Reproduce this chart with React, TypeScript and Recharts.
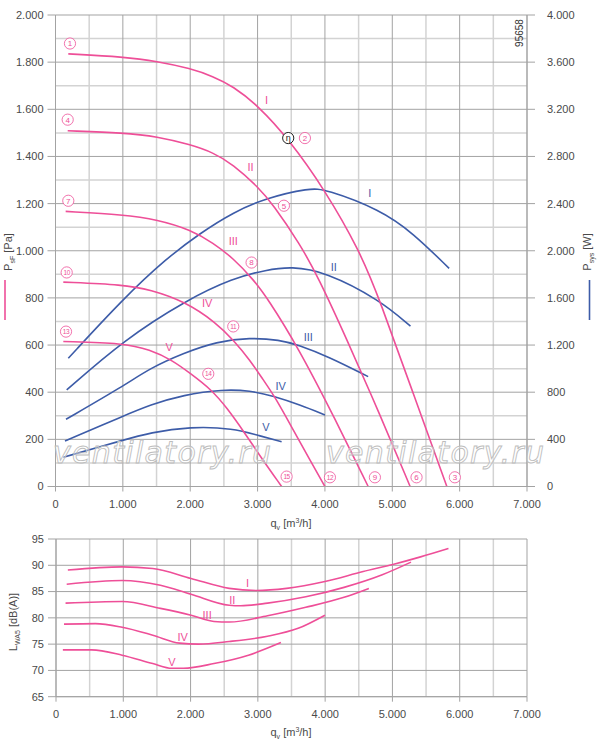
import React from "react";
import {
  CartesianGrid,
  ComposedChart,
  Line,
  ReferenceDot,
  XAxis,
  YAxis,
} from "recharts";

const PINK = "#ee4f98";
const BLUE = "#3d5ca8";
const GRID = "#a3a3a3";
const GRID_MINOR = "#d3d3d3";
const INK = "#4a4a4a";
const FONT = "'Liberation Sans', Arial, sans-serif";

// axes
const xTicks = [0, 1000, 2000, 3000, 4000, 5000, 6000, 7000];
const xMinor = [500, 1500, 2500, 3500, 4500, 5500, 6500];
const psfTicks = [0, 200, 400, 600, 800, 1000, 1200, 1400, 1600, 1800, 2000];
const psfMinor = [100, 300, 500, 700, 900, 1100, 1300, 1500, 1700, 1900];
const psysTicks = [0, 400, 800, 1200, 1600, 2000, 2400, 2800, 3200, 3600, 4000];
const lwaTicks = [65, 70, 75, 80, 85, 90, 95];

// static pressure psF [Pa] vs qv [m3/h]
const qPsfI = [190, 1016, 1506, 2006, 2337, 2634, 3005, 3455, 4000, 4519, 4816, 5310, 5810];
const psfI = [1835, 1822, 1804, 1773, 1740, 1698, 1616, 1476, 1258, 998, 790, 395, 0];
const qPsfII = [181, 1016, 1506, 2006, 2337, 2634, 3005, 3228, 3628, 3900, 4321, 4816, 5265];
const psfII = [1509, 1500, 1485, 1450, 1417, 1367, 1271, 1197, 1029, 888, 627, 305, 0];
const qPsfIII = [151, 1016, 1511, 2006, 2342, 2639, 2935, 3158, 3603, 4124, 4642];
const psfIII = [1167, 1153, 1132, 1089, 1033, 968, 879, 794, 589, 302, 0];
const qPsfIV = [116, 1016, 1402, 1922, 2392, 2639, 2886, 3084, 3257, 3529, 3777, 4000];
const psfIV = [867, 856, 835, 785, 693, 622, 537, 452, 381, 240, 113, 0];
const qPsfV = [116, 1016, 1402, 1724, 1996, 2318, 2541, 2812, 3035, 3357];
const psfV = [615, 608, 580, 537, 481, 410, 335, 226, 130, 0];

// power Psys [W]
const qPsysI = [190, 1016, 1650, 2144, 2639, 3124, 3777, 4000, 4816, 5310, 5844];
const psysI = [1088, 1600, 1936, 2148, 2326, 2447, 2532, 2523, 2350, 2150, 1850];
const qPsysII = [166, 1016, 1947, 2639, 3134, 3500, 4000, 4816, 5270];
const psysII = [819, 1244, 1583, 1768, 1838, 1866, 1824, 1583, 1360];
const qPsysIII = [156, 1016, 1402, 1897, 2392, 2886, 3331, 3603, 4050, 4642];
const psysIII = [570, 855, 1003, 1131, 1229, 1263, 1244, 1201, 1102, 932];
const qPsysIV = [141, 1016, 1402, 1897, 2490, 2886, 3232, 3628, 4000];
const psysIV = [386, 600, 692, 777, 825, 813, 768, 692, 607];
const qPsysV = [116, 1016, 1402, 1996, 2639, 3035, 3357];
const psysV = [248, 395, 457, 508, 494, 429, 380];

// sound power LWA5 [dB(A)]
const qLwaI = [176, 983, 1438, 2007, 2575, 2973, 3428, 3997, 4565, 5020, 5418, 5833];
const lwaI = [89.1, 89.7, 89.4, 87.5, 85.6, 85.2, 85.6, 86.9, 88.8, 90.2, 91.6, 93.2];
const qLwaII = [159, 983, 1552, 2007, 2575, 2746, 3144, 3712, 4281, 4849, 5276];
const lwaII = [86.4, 87.1, 86.2, 84.5, 82.4, 82.3, 82.8, 84.0, 85.8, 88.2, 90.6];
const qLwaIII = [142, 983, 1552, 2007, 2348, 2575, 3144, 3712, 4281, 4650];
const lwaIII = [82.8, 83.1, 81.8, 80.5, 79.3, 79.2, 80.4, 82.0, 83.9, 85.6];
const qLwaIV = [119, 586, 983, 1438, 1836, 2120, 2575, 3144, 3599, 3997];
const lwaIV = [78.8, 78.9, 78.2, 76.7, 75.2, 75.0, 75.5, 76.5, 78.0, 80.5];
const qLwaV = [102, 529, 983, 1438, 1722, 1893, 2348, 2860, 3343];
const lwaV = [73.9, 73.9, 72.9, 71.3, 70.4, 70.4, 71.3, 72.9, 75.3];

// operating point markers
const markNo = [1, 4, 7, 10, 13, 2, 5, 8, 11, 14, 15, 12, 9, 6, 3];
const markQ = [215, 181, 190, 166, 156, 3703, 3391, 2911, 2639, 2268, 3431, 4074, 4742, 5360, 5929];
const markP = [1879, 1556, 1212, 908, 657, 1478, 1191, 950, 679, 478, 42, 39, 39, 39, 39];
const etaQ = 3455;
const etaP = 1478;

const romans = ["I", "II", "III", "IV", "V"];
const psfLabelQ = [3134, 2897, 2639, 2253, 1689];
const psfLabelP = [1641, 1354, 1042, 778, 591];
const psysLabelQ = [4667, 4133, 3752, 3342, 3124];
const psysLabelW = [2489, 1866, 1272, 856, 508];
const lwaLabelQ = [2848, 2621, 2246, 1882, 1723];
const lwaLabelV = [86.7, 83.3, 80.5, 76.4, 71.5];

const zip = (q: number[], v: number[]) => q.map((x, i) => ({ q: x, v: v[i] }));

const fmt = (n: number) =>
  n >= 1000 ? `${Math.floor(n / 1000)}.${String(n % 1000).padStart(3, "0")}` : String(n);

const tickStyle = { fill: INK, fontSize: 11, fontFamily: FONT };

const psfSeries = [
  zip(qPsfI, psfI),
  zip(qPsfII, psfII),
  zip(qPsfIII, psfIII),
  zip(qPsfIV, psfIV),
  zip(qPsfV, psfV),
];
const psysSeries = [
  zip(qPsysI, psysI),
  zip(qPsysII, psysII),
  zip(qPsysIII, psysIII),
  zip(qPsysIV, psysIV),
  zip(qPsysV, psysV),
];
const lwaSeries = [
  zip(qLwaI, lwaI),
  zip(qLwaII, lwaII),
  zip(qLwaIII, lwaIII),
  zip(qLwaIV, lwaIV),
  zip(qLwaV, lwaV),
];

function Circled({ cx, cy, n }: { cx: number; cy: number; n: number }) {
  return (
    <g>
      <circle cx={cx} cy={cy} r={5.6} fill="#fff" stroke={PINK} strokeWidth={0.8} />
      <text
        x={cx}
        y={cy}
        dy="0.36em"
        textAnchor="middle"
        fontSize={n > 9 ? 6.5 : 8}
        letterSpacing={n > 9 ? -0.4 : 0}
        fontFamily={FONT}
        fill={PINK}
      >
        {n}
      </text>
    </g>
  );
}

function Tag({ cx, cy, text, color }: { cx: number; cy: number; text: string; color: string }) {
  return (
    <text x={cx} y={cy} dy="0.36em" textAnchor="middle" fontSize={11} fontFamily={FONT} fill={color}>
      {text}
    </text>
  );
}

function TopChart() {
  return (
    <ComposedChart width={600} height={530} margin={{ top: 15, right: 0, bottom: 0, left: 0 }}>
      <CartesianGrid
        horizontalValues={psfMinor}
        verticalValues={xMinor}
        stroke={GRID_MINOR}
        strokeWidth={1.5}
      />
      <CartesianGrid horizontalValues={psfTicks} verticalValues={xTicks} stroke={GRID} />
      <XAxis
        dataKey="q"
        type="number"
        domain={[0, 7000]}
        ticks={xTicks}
        tickFormatter={fmt}
        tick={tickStyle}
        tickSize={5}
        tickMargin={9}
        stroke={GRID}
        height={43.5}
      />
      <YAxis
        type="number"
        domain={[0, 2000]}
        ticks={psfTicks}
        tickFormatter={fmt}
        tick={tickStyle}
        tickSize={8}
        tickMargin={4}
        stroke={GRID}
        width={55.5}
      />
      <YAxis
        yAxisId="right"
        orientation="right"
        type="number"
        domain={[0, 4000]}
        ticks={psysTicks}
        tickFormatter={fmt}
        tick={tickStyle}
        tickSize={8}
        tickMargin={12}
        stroke={GRID}
        width={73}
      />
      {psysSeries.map((d, i) => (
        <Line
          key={`w${i}`}
          yAxisId="right"
          data={d}
          dataKey="v"
          type="basis"
          stroke={BLUE}
          strokeWidth={1.6}
          dot={false}
          isAnimationActive={false}
        />
      ))}
      {psfSeries.map((d, i) => (
        <Line
          key={`p${i}`}
          data={d}
          dataKey="v"
          type="basis"
          stroke={PINK}
          strokeWidth={1.6}
          dot={false}
          isAnimationActive={false}
        />
      ))}
      {markNo.map((n, i) => (
        <ReferenceDot
          key={`m${n}`}
          x={markQ[i]}
          y={markP[i]}
          ifOverflow="visible"
          shape={(p: any) => <Circled cx={p.cx} cy={p.cy} n={n} />}
        />
      ))}
      <ReferenceDot
        x={etaQ}
        y={etaP}
        ifOverflow="visible"
        shape={(p: any) => (
          <g>
            <circle cx={p.cx} cy={p.cy} r={5.6} fill="#fff" stroke="#222" strokeWidth={1} />
            <text x={p.cx} y={p.cy} dy="0.3em" textAnchor="middle" fontSize={9} fontFamily={FONT} fill="#222">
              η
            </text>
          </g>
        )}
      />
      {romans.map((r, i) => (
        <ReferenceDot
          key={`rp${r}`}
          x={psfLabelQ[i]}
          y={psfLabelP[i]}
          ifOverflow="visible"
          shape={(p: any) => <Tag cx={p.cx} cy={p.cy} text={r} color={PINK} />}
        />
      ))}
      {romans.map((r, i) => (
        <ReferenceDot
          key={`rw${r}`}
          yAxisId="right"
          x={psysLabelQ[i]}
          y={psysLabelW[i]}
          ifOverflow="visible"
          shape={(p: any) => <Tag cx={p.cx} cy={p.cy} text={r} color={BLUE} />}
        />
      ))}
    </ComposedChart>
  );
}

function BottomChart() {
  return (
    <ComposedChart width={600} height={217} margin={{ top: 9, right: 73, bottom: 0, left: 0 }}>
      <CartesianGrid horizontal={false} verticalValues={xMinor} stroke={GRID_MINOR} strokeWidth={1.5} />
      <CartesianGrid horizontalValues={lwaTicks} verticalValues={xTicks} stroke={GRID} />
      <XAxis
        dataKey="q"
        type="number"
        domain={[0, 7000]}
        ticks={xTicks}
        tickFormatter={fmt}
        tick={tickStyle}
        tickSize={5}
        tickMargin={8}
        stroke={GRID}
        height={50.3}
      />
      <YAxis
        type="number"
        domain={[65, 95]}
        ticks={lwaTicks}
        tick={tickStyle}
        tickSize={8}
        tickMargin={4}
        stroke={GRID}
        width={56}
      />
      {lwaSeries.map((d, i) => (
        <Line
          key={`l${i}`}
          data={d}
          dataKey="v"
          type="monotone"
          stroke={PINK}
          strokeWidth={1.6}
          dot={false}
          isAnimationActive={false}
        />
      ))}
      {romans.map((r, i) => (
        <ReferenceDot
          key={`rl${r}`}
          x={lwaLabelQ[i]}
          y={lwaLabelV[i]}
          ifOverflow="visible"
          shape={(p: any) => <Tag cx={p.cx} cy={p.cy} text={r} color={PINK} />}
        />
      ))}
    </ComposedChart>
  );
}

function Overlay() {
  const t = { fontFamily: FONT, fontSize: 11, fill: INK };
  const wm = {
    fontFamily: "'DejaVu Sans', sans-serif",
    fontStyle: "italic" as const,
    fontSize: 30,
    fill: "#fff",
    fillOpacity: 0.35,
    stroke: "#bdbdbd",
    strokeWidth: 0.9,
  };
  return (
    <svg
      width={600}
      height={747}
      style={{ position: "absolute", left: 0, top: 0, pointerEvents: "none" }}
    >
      <text {...wm} x={162} y={463} textAnchor="middle" textLength={218}>ventilatory.ru</text>
      <text {...wm} x={435} y={463} textAnchor="middle" textLength={218}>ventilatory.ru</text>
      <text {...t} fontSize={10} fill="#333" transform="translate(523,33) rotate(-90)" textAnchor="middle">
        95658
      </text>
      <text {...t} transform="translate(12,252) rotate(-90)" textAnchor="middle">
        P<tspan fontSize={7} dy={3}>sF</tspan>
        <tspan dy={-3}> [Pa]</tspan>
      </text>
      <line x1={5} x2={5} y1={280} y2={320} stroke={PINK} strokeWidth={1.6} />
      <text {...t} transform="translate(591,252) rotate(-90)" textAnchor="middle">
        P<tspan fontSize={7} dy={3}>sys</tspan>
        <tspan dy={-3}> [W]</tspan>
      </text>
      <line x1={589.5} x2={589.5} y1={280} y2={320} stroke={BLUE} strokeWidth={1.6} />
      <text {...t} x={291} y={527} textAnchor="middle">
        q<tspan fontSize={7} dy={3}>v</tspan>
        <tspan dy={-3}> [m</tspan>
        <tspan fontSize={7} dy={-4}>3</tspan>
        <tspan dy={4}>/h]</tspan>
      </text>
      <text {...t} x={291} y={736} textAnchor="middle">
        q<tspan fontSize={7} dy={3}>v</tspan>
        <tspan dy={-3}> [m</tspan>
        <tspan fontSize={7} dy={-4}>3</tspan>
        <tspan dy={4}>/h]</tspan>
      </text>
      <text {...t} transform="translate(17,622) rotate(-90)" textAnchor="middle">
        L<tspan fontSize={7} dy={3}>WA5</tspan>
        <tspan dy={-3}> [dB(A)]</tspan>
      </text>
    </svg>
  );
}

export default function App() {
  return (
    <div style={{ position: "absolute", left: 0, top: 0, width: 600, height: 747, background: "#fff" }}>
      <TopChart />
      <div style={{ position: "absolute", left: 0, top: 530 }}>
        <BottomChart />
      </div>
      <Overlay />
    </div>
  );
}
